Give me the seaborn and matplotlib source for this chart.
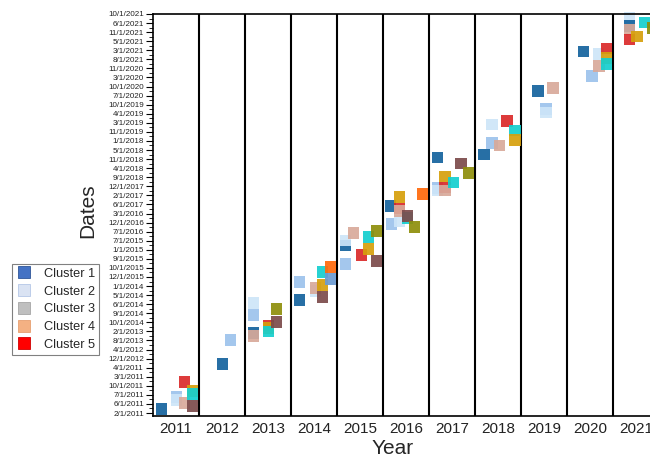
import numpy as np
import pandas as pd
import matplotlib
matplotlib.use('Agg')
import matplotlib.pyplot as plt
from matplotlib.lines import Line2D
from matplotlib.ticker import MultipleLocator
import seaborn as sns

# date categories on the y axis, bottom to top
DATE_LABELS = ['2/1/2011', '6/1/2011', '7/1/2011', '10/1/2011', '3/1/2011', '4/1/2011',
               '12/1/2012', '4/1/2012', '8/1/2013', '2/1/2013', '10/1/2014', '9/1/2014',
               '6/1/2014', '5/1/2014', '1/1/2014', '12/1/2015', '10/1/2015', '9/1/2015',
               '1/1/2015', '7/1/2015', '7/1/2016', '12/1/2016', '3/1/2016', '6/1/2017',
               '2/1/2017', '12/1/2017', '9/1/2018', '4/1/2018', '11/1/2018', '5/1/2018',
               '1/1/2018', '11/1/2019', '3/1/2019', '4/1/2019', '10/1/2019', '7/1/2020',
               '10/1/2020', '3/1/2020', '11/1/2020', '8/1/2021', '3/1/2021', '5/1/2021',
               '11/1/2021', '6/1/2021', '10/1/2021']
YEARS = list(range(2011, 2022))

# points, in drawing order (year position, date position, cluster)
x_year = [
    2010.68, 2011.01, 2011.01, 2011.18, 2011.18, 2011.36, 2011.36, 2011.36,
    2012.01, 2012.18,
    2012.68, 2012.68, 2012.68, 2012.68, 2013.01, 2013.01, 2013.01, 2013.18, 2013.18,
    2013.68, 2013.68, 2014.03, 2014.03, 2014.18, 2014.18, 2014.18, 2014.36, 2014.36,
    2014.68, 2014.68, 2014.68, 2014.86, 2015.03, 2015.18, 2015.18, 2015.36, 2015.36,
    2015.66, 2015.68, 2015.86, 2015.86, 2015.86, 2015.86, 2016.03, 2016.03, 2016.18, 2016.36,
    2016.69, 2016.69, 2016.69, 2016.85, 2016.85, 2016.85, 2017.03, 2017.20, 2017.36,
    2017.70, 2017.87, 2017.87, 2018.03, 2018.20, 2018.37, 2018.37,
    2018.87, 2019.20, 2019.04, 2019.04,
    2019.86, 2020.18, 2020.04, 2020.20, 2020.36, 2020.36, 2020.36,
    2020.86, 2020.86, 2020.86, 2020.86, 2021.02, 2021.20, 2021.37,
]
date_pos = [
    0.44, 1.76, 1.43, 3.42, 1.10, 2.43, 2.09, 0.77,
    5.40, 8.05,
    8.82, 10.80, 12.13, 8.49, 9.65, 9.37, 8.99, 10.03, 11.47,
    12.46, 14.44, 13.45, 13.78, 15.55, 14.11, 12.79, 16.10, 14.77,
    16.43, 18.50, 19.02, 19.85, 17.42, 19.40, 18.08, 20.07, 16.76,
    22.82, 20.84, 21.17, 22.58, 22.29, 23.81, 21.52, 21.72, 20.51, 24.15,
    28.15, 24.83, 24.53, 24.86, 24.56, 26.10, 25.44, 27.49, 26.46,
    28.48, 29.75, 31.83, 29.47, 32.19, 31.15, 30.12,
    35.50, 35.83, 33.52, 33.15,
    39.86, 39.58, 37.16, 38.26, 40.17, 39.14, 38.48,
    43.63, 42.67, 42.27, 41.16, 41.49, 43.09, 42.45,
]
cluster = [
    1, 3, 2, 5, 4, 7, 6, 8,
    1, 3,
    1, 3, 2, 4, 5, 7, 6, 8, 9,
    1, 3, 2, 4, 6, 7, 8, 10, 11,
    3, 1, 2, 4, 5, 6, 7, 9, 8,
    1, 3, 2, 5, 4, 7, 6, 8, 9, 10,
    1, 3, 2, 5, 4, 7, 6, 8, 9,
    1, 3, 2, 4, 5, 6, 7,
    1, 4, 3, 2,
    1, 2, 3, 4, 5, 7, 6,
    2, 1, 4, 5, 7, 6, 9,
]

CLUSTER_COLORS = {1: '#14639E', 2: '#CDE5F8', 3: '#9CC3EC', 4: '#D8A99A', 5: '#DA2A2A',
                  6: '#14CFCF', 7: '#D6A00C', 8: '#7C4B4B', 9: '#8E8E0A', 10: '#FF690A',
                  11: '#6A9AD2'}
LEGEND_NAMES = ['Cluster 1', 'Cluster 2', 'Cluster 3', 'Cluster 4', 'Cluster 5']
LEGEND_COLORS = ['#4472C4', '#DAE3F3', '#BFBFBF', '#F4B183', '#FF0000']
LEGEND_EDGES = ['#2F5597', '#B4C7E7', '#A5A5A5', '#E6A070', '#D00000']

sns.set_style('white')
plt.rcParams['font.family'] = ['Liberation Sans', 'DejaVu Sans']

df = pd.DataFrame({'Year': x_year, 'Dates': date_pos, 'Cluster': cluster})

fig = plt.figure(figsize=(6.5, 4.58), dpi=100)
ax = fig.add_axes([153 / 650, 42 / 458, 506 / 650, 402 / 458])

sns.scatterplot(data=df, x='Year', y='Dates', hue='Cluster', palette=CLUSTER_COLORS,
                marker='s', s=68, linewidth=0, alpha=0.92, legend=False, ax=ax,
                clip_on=False, zorder=2)

# year separators
for yr in YEARS[:-1]:
    ax.axvline(yr + 0.5, color='black', lw=1.5, zorder=1)

ax.set_xlim(YEARS[0] - 0.5, YEARS[-1] + 0.5)
ax.set_ylim(-0.33, len(DATE_LABELS) - 1)
ax.set_xticks(YEARS)
ax.set_xticklabels([str(y) for y in YEARS])
ax.set_yticks(range(len(DATE_LABELS)))
ax.set_yticklabels(DATE_LABELS)
ax.yaxis.set_minor_locator(MultipleLocator(0.5))

ax.tick_params(axis='x', length=0, labelsize=11, pad=4, colors='#222222')
ax.tick_params(axis='y', which='major', left=True, length=5, width=0.8, labelsize=5.8,
               pad=1.5, color='black', labelcolor='#222222')
ax.tick_params(axis='y', which='minor', left=True, length=3, width=0.6, color='black')

for sp in ax.spines.values():
    sp.set_visible(True)
    sp.set_color('black')
    sp.set_linewidth(1.2)

ax.set_xlabel('Year', fontsize=15)
ax.xaxis.set_label_coords(0.473, -0.058)
ax.set_ylabel('Dates', fontsize=15)
ax.yaxis.set_label_coords(-0.11, 0.51)

handles = [Line2D([0], [0], marker='s', linestyle='none', markersize=8,
                  markerfacecolor=c, markeredgecolor=e, markeredgewidth=0.6)
           for c, e in zip(LEGEND_COLORS, LEGEND_EDGES)]
leg = fig.legend(handles, LEGEND_NAMES, loc='upper left',
                 bbox_to_anchor=(12 / 650, 1 - 264 / 458), fontsize=9.2,
                 frameon=True, fancybox=False, framealpha=1, edgecolor='#808080',
                 handlelength=1.2, handletextpad=1.0, labelspacing=0.45,
                 borderpad=0.3, borderaxespad=0)
leg.get_frame().set_linewidth(0.8)

fig.savefig('out.png', dpi=100)
